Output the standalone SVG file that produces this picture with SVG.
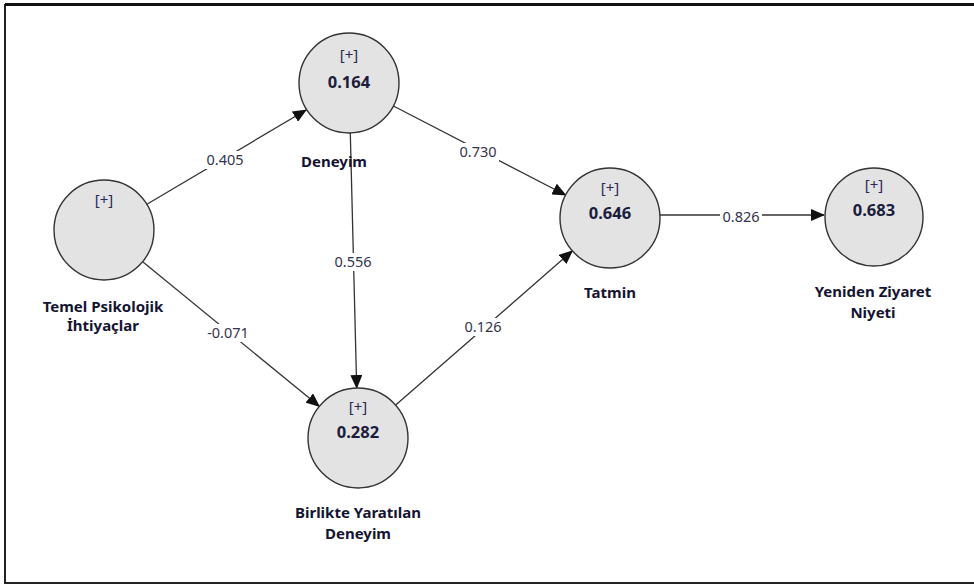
<svg xmlns="http://www.w3.org/2000/svg" width="974" height="585" viewBox="0 0 974 585">
<defs>
<marker id="ah" markerUnits="userSpaceOnUse" markerWidth="14" markerHeight="12" viewBox="0 0 14 12" refX="13" refY="6" orient="auto">
<path d="M0,0 L14,6 L0,12 Z" fill="#111"/>
</marker>
<style>
.c{fill:#e3e3e3;stroke:#333;stroke-width:1.4}
.pl{font-family:"Noto Sans","Open Sans",sans-serif;font-size:15px;fill:#2a2a55;text-anchor:middle}
.v{font-family:"Noto Sans","Open Sans",sans-serif;font-size:16.5px;font-weight:bold;fill:#1c1c3c;text-anchor:middle}
.n{font-family:"Noto Sans","Open Sans",sans-serif;font-size:15px;font-weight:bold;fill:#141432;text-anchor:middle}
.e{stroke:#333;stroke-width:1.3;fill:none;marker-end:url(#ah)}
.el{font-family:"Noto Sans","Open Sans",sans-serif;font-size:14.5px;fill:#33334d;text-anchor:middle}
.bg{fill:#fff}
</style>
</defs>
<rect width="974" height="585" fill="#fff"/>
<path d="M974,5 H5 V583 H974" fill="none" stroke="#222" stroke-width="2"/>
<line x1="5" y1="4.5" x2="974" y2="4.5" stroke="#111" stroke-width="3"/>
<g id="connectors">
<line class="e" x1="146.9" y1="204.3" x2="306.1" y2="110"/>
<line class="e" x1="142.7" y1="261.7" x2="319.3" y2="406.3"/>
<line class="e" x1="393.4" y1="106" x2="565.6" y2="195"/>
<line class="e" x1="350.3" y1="133" x2="356.7" y2="388"/>
<line class="e" x1="395.7" y1="405.1" x2="572.3" y2="250.9"/>
<line class="e" x1="660" y1="215" x2="824" y2="215"/>
<rect class="bg" x="204" y="151" width="42" height="18"/>
<text class="el" x="225" y="165">0.405</text>
<rect class="bg" x="204" y="324" width="48" height="18"/>
<text class="el" x="228" y="338">-0.071</text>
<rect class="bg" x="457" y="143" width="42" height="18"/>
<text class="el" x="478" y="157">0.730</text>
<rect class="bg" x="332" y="253" width="42" height="18"/>
<text class="el" x="353" y="267">0.556</text>
<rect class="bg" x="462" y="318" width="42" height="18"/>
<text class="el" x="483" y="332">0.126</text>
<rect class="bg" x="720" y="208" width="42" height="18"/>
<text class="el" x="741" y="222">0.826</text>
</g>
<g id="temel">
<circle class="c" cx="104" cy="230" r="50"/>
<text class="pl" x="104" y="205">[+]</text>
<text class="n" x="103" y="312">Temel Psikolojik</text>
<text class="n" x="103" y="331">İhtiyaçlar</text>
</g>
<g id="deneyim">
<circle class="c" cx="349" cy="83" r="50"/>
<text class="pl" x="349" y="60">[+]</text>
<text class="v" x="349" y="88">0.164</text>
<text class="n" x="334" y="167">Deneyim</text>
</g>
<g id="birlikte">
<circle class="c" cx="358" cy="438" r="50"/>
<text class="pl" x="358" y="412">[+]</text>
<text class="v" x="358" y="438">0.282</text>
<text class="n" x="358" y="518">Birlikte Yaratılan</text>
<text class="n" x="358" y="539">Deneyim</text>
</g>
<g id="tatmin">
<circle class="c" cx="610" cy="218" r="50"/>
<text class="pl" x="610" y="193">[+]</text>
<text class="v" x="610" y="219">0.646</text>
<text class="n" x="610" y="298">Tatmin</text>
</g>
<g id="yeniden">
<circle class="c" cx="874" cy="217" r="49"/>
<text class="pl" x="874" y="190">[+]</text>
<text class="v" x="874" y="216">0.683</text>
<text class="n" x="873" y="297">Yeniden Ziyaret</text>
<text class="n" x="873" y="318">Niyeti</text>
</g>
</svg>
